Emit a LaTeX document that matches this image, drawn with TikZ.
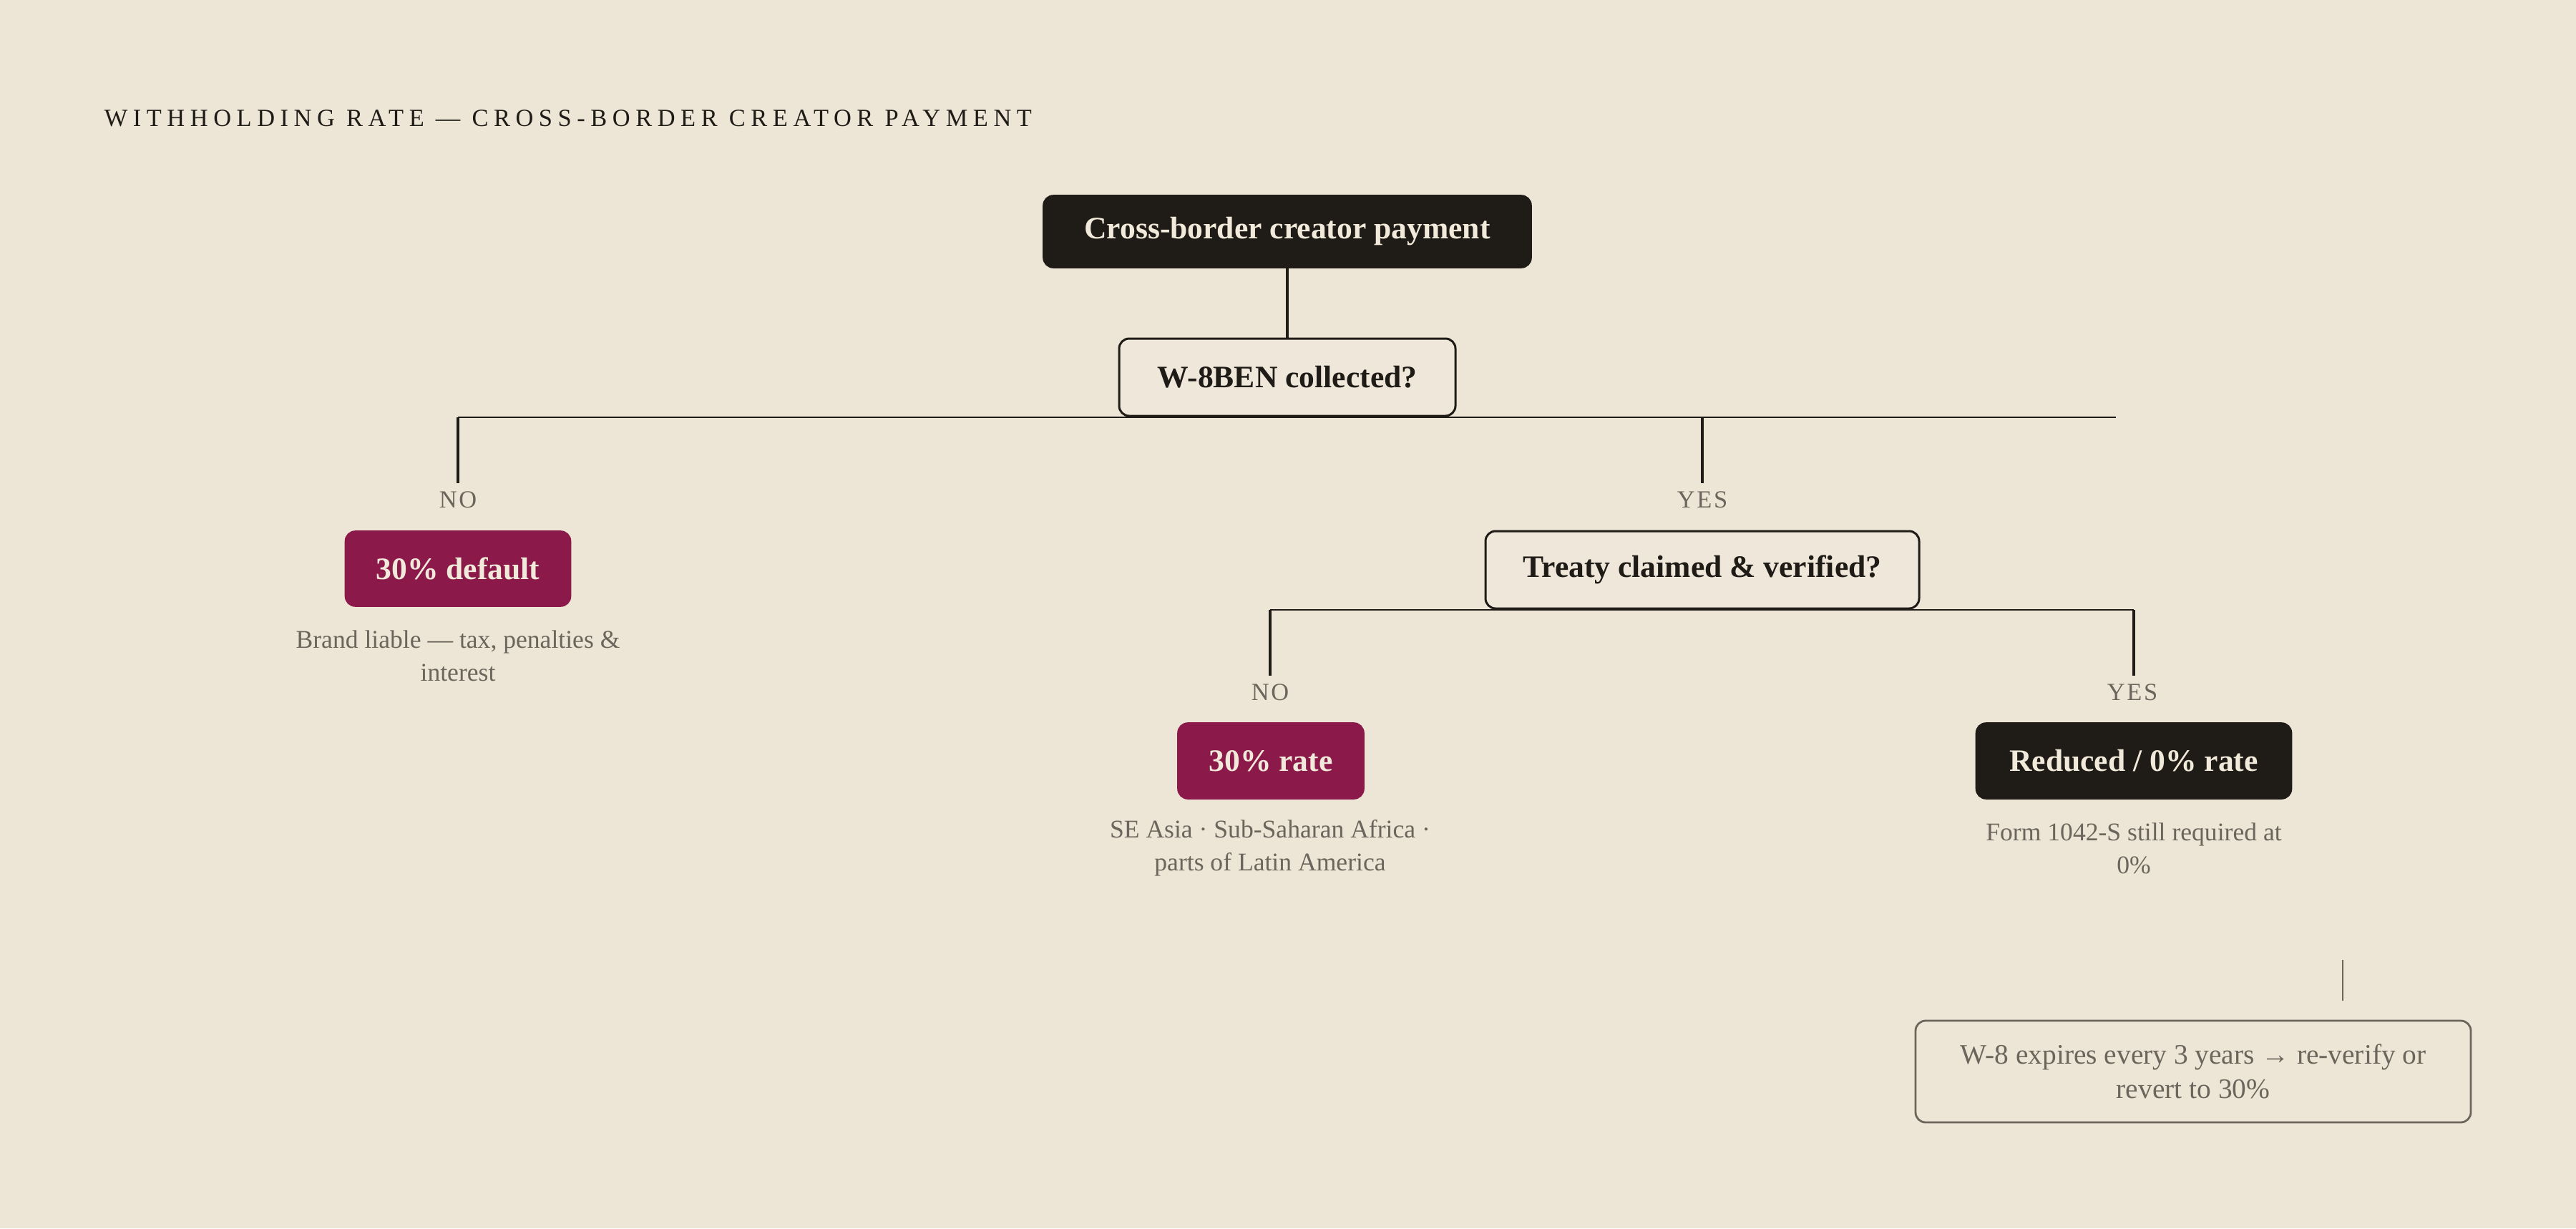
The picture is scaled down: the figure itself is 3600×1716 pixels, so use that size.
\documentclass[tikz,border=0pt]{standalone}
\usepackage{fontspec}
\setmainfont{Liberation Serif}
\definecolor{bg}{HTML}{EDE5D6}
\definecolor{ink}{HTML}{1F1C17}
\definecolor{crim}{HTML}{8B1A4A}
\definecolor{cream}{HTML}{F1E9DA}
\definecolor{mute}{HTML}{6B655C}
\definecolor{lightbox}{HTML}{EFE8DA}
\begin{document}
\begin{tikzpicture}[x=0.25pt,y=-0.25pt,
  boxtxt/.style={font=\fontsize{10.9}{13}\selectfont\bfseries},
  darkbox/.style={boxtxt, rounded corners=3.5pt, fill=ink, draw=ink, text=cream, inner sep=0pt},
  redbox/.style={boxtxt, rounded corners=3.5pt, fill=crim, draw=crim, text=cream, inner sep=0pt},
  askbox/.style={boxtxt, rounded corners=3.5pt, fill=lightbox, draw=ink, line width=0.75pt, text=ink, inner sep=0pt},
  branch/.style={font=\fontsize{8.6}{10}\selectfont\addfontfeature{LetterSpace=8}, text=mute, inner sep=0pt},
  notetxt/.style={font=\fontsize{8.9}{11.5}\selectfont, text=mute, align=center, inner sep=0pt},
  wire/.style={draw=ink, line width=0.7pt},
  stem/.style={draw=ink, line width=1.1pt},
  thin/.style={draw=mute, line width=0.5pt},
  notebox/.style={rounded corners=3.5pt, draw=mute, line width=0.7pt, fill=bg, text=mute, align=center,
    font=\fontsize{9.85}{12}\selectfont, inner sep=0pt}
]
\fill[bg] (0,0) rectangle (3600,1716);
\useasboundingbox (0,0) rectangle (3600,1716);

% title
\node[anchor=west, inner sep=0pt, text=ink, font=\fontsize{8.6}{10}\selectfont\addfontfeature{LetterSpace=22}] (title) at (145,165)
  {WITHHOLDING RATE — CROSS-BORDER CREATOR PAYMENT};

% nodes
\node[darkbox, minimum width=170.5pt, minimum height=25.25pt] (start) at (1799,323.5) {\raisebox{-0.5pt}{Cross-border creator payment}};
\node[askbox, minimum width=117.5pt, minimum height=27pt] (w8) at (1799,527) {W-8BEN collected?};

\coordinate (busL) at (640,583);
\coordinate (busM) at (2379,583);
\coordinate (busR) at (2957,583);
\coordinate (no1top) at (640,675);
\coordinate (yes1top) at (2379,675);

\node[branch] (no1) at (640,698) {NO};
\node[branch] (yes1) at (2379,698) {YES};

\node[redbox, minimum width=78.75pt, minimum height=26.25pt] (def30) at (640,794.5) {30\% default};
\node[notetxt] (note1) at (640,916) {Brand liable — tax, penalties \&\\interest};

\node[askbox, minimum width=151.5pt, minimum height=27pt] (treaty) at (2379,796) {Treaty claimed \& verified?};

\coordinate (bus2L) at (1775,852);
\coordinate (bus2R) at (2982,852);
\coordinate (no2top) at (1775,944);
\coordinate (yes2top) at (2982,944);

\node[branch] (no2) at (1775,967) {NO};
\node[branch] (yes2) at (2980,967) {YES};

\node[redbox, minimum width=65pt, minimum height=26.5pt] (rate30) at (1776,1063) {30\% rate};
\node[darkbox, minimum width=110.25pt, minimum height=26.5pt] (reduced) at (2982,1063) {Reduced / 0\% rate};

\node[notetxt] (note2) at (1775,1185) {SE Asia · Sub-Saharan Africa ·\\parts of Latin America};
\node[notetxt] (note3) at (2982,1185) {Form 1042-S still required at\\0\%};

\coordinate (tickA) at (3274,1341);
\coordinate (tickB) at (3274,1398);
\node[notebox, minimum width=194pt, minimum height=35.5pt] (expire) at (3065,1497)
  {W-8 expires every 3 years → re-verify or\\revert to 30\%};

% connectors
\draw[stem] (start.south) -- (w8.north);
\draw[wire] (busL) -- (busR);
\draw[stem] (busL) -- (no1top);
\draw[stem] (busM) -- (yes1top);
\draw[wire] (bus2L) -- (bus2R);
\draw[stem] (bus2L) -- (no2top);
\draw[stem] (bus2R) -- (yes2top);
\draw[thin] (tickA) -- (tickB);
\end{tikzpicture}
\end{document}
